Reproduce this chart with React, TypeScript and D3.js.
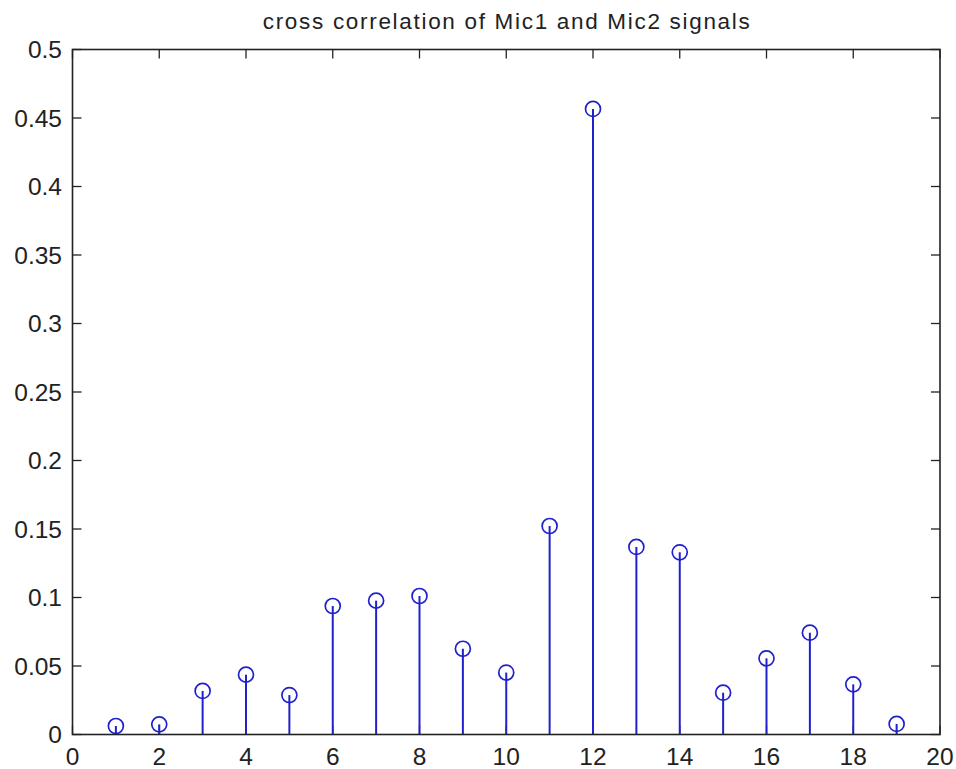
import React from "react";
import * as d3 from "d3";

// Lag index and correlation magnitude for each stem
const lags = [1, 2, 3, 4, 5, 6, 7, 8, 9, 10, 11, 12, 13, 14, 15, 16, 17, 18, 19];
const corr = [
  0.0062, 0.0074, 0.0318, 0.0437, 0.0288, 0.0938, 0.0977, 0.1011, 0.0626, 0.0452,
  0.1522, 0.4566, 0.1369, 0.133, 0.0305, 0.0556, 0.0743, 0.0366, 0.0077,
];
const xTicks = [0, 2, 4, 6, 8, 10, 12, 14, 16, 18, 20];
const yTicks = [0, 0.05, 0.1, 0.15, 0.2, 0.25, 0.3, 0.35, 0.4, 0.45, 0.5];
const title = "cross correlation of Mic1 and Mic2 signals";

const W = 956;
const H = 769;
const left = 72.5;
const right = 940;
const top = 49.5;
const bottom = 734.5;
const tickLen = 9;
const blue = "#2020cc";
const axisColor = "#222";
const font = "'Liberation Sans', Arial, sans-serif";

export default function App() {
  const x = d3.scaleLinear().domain([0, 20]).range([left, right]);
  const y = d3.scaleLinear().domain([0, 0.5]).range([bottom, top]);
  const fmt = (v: number) => d3.format("~g")(+v.toFixed(2));

  return (
    <svg
      width={W}
      height={H}
      style={{ position: "absolute", left: 0, top: 0, background: "#fff" }}
    >
      <rect x={0} y={0} width={W} height={H} fill="#fff" />
      <text
        x={(left + right) / 2}
        y={29}
        textAnchor="middle"
        fontFamily={font}
        fontSize={22.5}
        textLength={487}
        lengthAdjust="spacing"
        fill="#222"
      >
        {title}
      </text>

      {/* ticks, inward on all four sides */}
      {xTicks.map((t) => (
        <g key={"xt" + t}>
          <line x1={x(t)} x2={x(t)} y1={bottom} y2={bottom - tickLen} stroke={axisColor} strokeWidth={1.3} />
          <line x1={x(t)} x2={x(t)} y1={top} y2={top + tickLen} stroke={axisColor} strokeWidth={1.3} />
          <text
            x={x(t)}
            y={765}
            textAnchor="middle"
            fontFamily={font}
            fontSize={24.5}
            fill="#222"
          >
            {fmt(t)}
          </text>
        </g>
      ))}
      {yTicks.map((t) => (
        <g key={"yt" + t}>
          <line x1={left} x2={left + tickLen} y1={y(t)} y2={y(t)} stroke={axisColor} strokeWidth={1.3} />
          <line x1={right} x2={right - tickLen} y1={y(t)} y2={y(t)} stroke={axisColor} strokeWidth={1.3} />
          <text
            x={62}
            y={y(t)}
            dy="0.36em"
            textAnchor="end"
            fontFamily={font}
            fontSize={24.5}
            fill="#222"
          >
            {fmt(t)}
          </text>
        </g>
      ))}

      {/* stems */}
      {lags.map((l, i) => (
        <g key={"s" + l}>
          <line x1={x(l)} x2={x(l)} y1={y(0)} y2={y(corr[i])} stroke={blue} strokeWidth={2} />
          <circle cx={x(l)} cy={y(corr[i])} r={7.5} fill="none" stroke={blue} strokeWidth={1.7} />
        </g>
      ))}

      {/* frame */}
      <rect
        x={left}
        y={top}
        width={right - left}
        height={bottom - top}
        fill="none"
        stroke={axisColor}
        strokeWidth={1.6}
      />
    </svg>
  );
}
